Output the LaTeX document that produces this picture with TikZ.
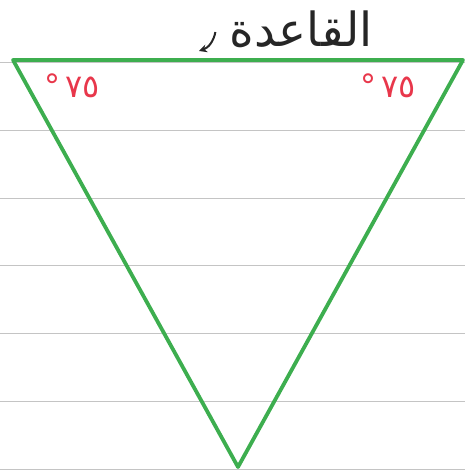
\documentclass[tikz,border=0pt]{standalone}
\usepackage{fontspec}
\newfontfamily\arabicfont[Script=Arabic]{DejaVu Sans}
\TeXXeTstate=1
\usetikzlibrary{arrows.meta,positioning}
\definecolor{pen}{HTML}{3DAE4F}
\definecolor{ang}{HTML}{E8374B}
\definecolor{rule}{HTML}{C4C4C4}
\tikzset{
  side/.style={draw=pen,line width=3.8pt,line join=round,line cap=round},
  ruled/.style={draw=rule,line width=0.9pt},
  angl/.style={text=ang,font=\arabicfont\fontsize{32}{32}\selectfont,inner sep=0pt},
  lbl/.style={text=black!85,font=\arabicfont\fontsize{47}{47}\selectfont,inner sep=0pt},
  ar/.style={-{Stealth[length=8pt,width=8pt]},line width=2pt,draw=black!85},
}

\begin{document}
\begin{tikzpicture}[x=1pt,y=-1pt]
\useasboundingbox (0,0) rectangle (465,475);
% ruled paper
\foreach \y in {62,130,198,265,333,401,469} \draw[ruled] (0,\y) -- (465,\y);
% triangle
\coordinate (tl) at (13,60);
\coordinate (tr) at (463,60);
\coordinate (bt) at (238,467);
\draw[side] (tl) -- (tr) -- (bt) -- cycle;
% base angles
\node[angl] (angL) at (72,86) {\beginR\beginL ٧٥\endL\hspace{5pt}°\endR};
\node[angl] (angR) at (388,86) {\beginR\beginL ٧٥\endL\hspace{5pt}°\endR};
% label of the base
\node[lbl] (base) at (301,29) {\beginR القاعدة\endR};
\coordinate (tip) at (199,51);
\draw[ar] ([xshift=-14pt,yshift=-3pt]base.west) to[bend left=30] (tip);
\end{tikzpicture}
\end{document}
